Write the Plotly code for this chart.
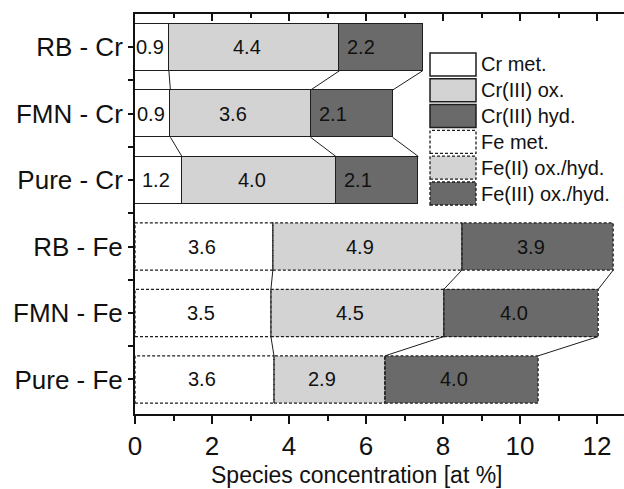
import plotly.graph_objects as go

# ---- data ----
cr_samples = ["RB - Cr", "FMN - Cr", "Pure - Cr"]
cr_met = [0.88, 0.92, 1.22]
cr_ox = [4.43, 3.64, 4.00]
cr_hyd = [2.16, 2.13, 2.14]

fe_samples = ["RB - Fe", "FMN - Fe", "Pure - Fe"]
fe_met = [3.58, 3.53, 3.61]
fe_ox = [4.91, 4.49, 2.88]
fe_hyd = [3.93, 4.01, 3.98]

legend_names = ["Cr met.", "Cr(III) ox.", "Cr(III) hyd.",
                "Fe met.", "Fe(II) ox./hyd.", "Fe(III) ox./hyd."]
x_ticks = [0, 2, 4, 6, 8, 10, 12]
x_title = "Species concentration [at %]"

# ---- style ----
FONT = "Liberation Sans, Arial, sans-serif"
WHITE, LIGHT, DARK = "#ffffff", "#d3d3d3", "#6a6a6a"
EDGE = "#1e1e1e"
BW = 0.71          # bar thickness in y units
H = BW / 2
DASH = "3px,2px"

cr_y = [5, 4, 3]
fe_y = [2, 1, 0]

fig = go.Figure()

def add_group(ys, series, colors, line_w):
    for vals, col in zip(series, colors):
        fig.add_trace(go.Bar(
            y=ys, x=vals, orientation="h", width=BW,
            marker=dict(color=col, line=dict(color=EDGE, width=line_w)),
            showlegend=False, hoverinfo="skip"))

add_group(cr_y, [cr_met, cr_ox, cr_hyd], [WHITE, LIGHT, DARK], 1.5)
add_group(fe_y, [fe_met, fe_ox, fe_hyd], [WHITE, LIGHT, DARK], 0)

def cum(series):
    out = []
    for i in range(len(series[0])):
        a = series[0][i]
        b = a + series[1][i]
        c = b + series[2][i]
        out.append([0, a, b, c])
    return out

cr_cum = cum([cr_met, cr_ox, cr_hyd])
fe_cum = cum([fe_met, fe_ox, fe_hyd])

# dashed outlines for Fe bars
ox, oy = [], []
for y, c in zip(fe_y, fe_cum):
    for k in range(3):
        x0, x1 = c[k], c[k + 1]
        ox += [x0, x1, x1, x0, x0, None]
        oy += [y - H, y - H, y + H, y + H, y - H, None]
fig.add_trace(go.Scatter(x=ox, y=oy, mode="lines",
                         line=dict(color=EDGE, width=1.3, dash=DASH),
                         showlegend=False, hoverinfo="skip"))

# connectors between adjacent bars
cx, cy = [], []
for ys, cs in ((cr_y, cr_cum), (fe_y, fe_cum)):
    for i in range(len(ys) - 1):
        for k in (1, 2, 3):
            cx += [cs[i][k], cs[i + 1][k], None]
            cy += [ys[i] - H, ys[i + 1] + H, None]
fig.add_trace(go.Scatter(x=cx, y=cy, mode="lines",
                         line=dict(color=EDGE, width=1),
                         showlegend=False, hoverinfo="skip"))

# value labels
ann = []
for ys, series, cs in ((cr_y, [cr_met, cr_ox, cr_hyd], cr_cum),
                       (fe_y, [fe_met, fe_ox, fe_hyd], fe_cum)):
    for i, y in enumerate(ys):
        for k in range(3):
            v = series[k][i]
            is_cr_hyd = (ys is cr_y and k == 2)
            if is_cr_hyd:
                ann.append(dict(x=cs[i][k], y=y, text=f"{v:.1f}", xref="x", yref="y",
                                xanchor="left", xshift=6, showarrow=False,
                                font=dict(family=FONT, size=20, color="#111")))
            else:
                shift = -2 if k == 0 else -7
                ann.append(dict(x=(cs[i][k] + cs[i][k + 1]) / 2, y=y, text=f"{v:.1f}",
                                xref="x", yref="y", xanchor="center", xshift=shift,
                                showarrow=False,
                                font=dict(family=FONT, size=20, color="#111")))

# manual legend (pixel layout -> paper coords)
L, T, PW, PH = 135, 14, 489, 400
def px(xp):
    return (xp - L) / PW
def py(yp):
    return (T + PH - yp) / PH

shapes = []
leg_fill = [WHITE, LIGHT, DARK, WHITE, LIGHT, DARK]
for j, name in enumerate(legend_names):
    top = 53 + j * 25.8
    dashed = j >= 3
    shapes.append(dict(type="rect", xref="paper", yref="paper",
                       x0=px(430), x1=px(476), y0=py(top + 23), y1=py(top),
                       fillcolor=leg_fill[j],
                       line=dict(color=EDGE, width=1.3 if dashed else 1.5,
                                 dash=DASH if dashed else "solid")))
    ann.append(dict(x=px(479), y=py(top + 11.5), xref="paper", yref="paper",
                    text=name, xanchor="left", yanchor="middle", showarrow=False,
                    font=dict(family=FONT, size=20, color="#111")))

# x-axis title (placed as in the reference, left of plot centre)
ann.append(dict(x=px(357), y=py(475), xref="paper", yref="paper", text=x_title,
                xanchor="center", yanchor="middle", showarrow=False,
                font=dict(family=FONT, size=23, color="#111")))

xmax = PW / ((597 - 135) / 12)

axis_common = dict(showline=True, linecolor="#111", linewidth=2,
                   showgrid=False, zeroline=False, tickcolor="#111", tickwidth=1.8)

fig.update_layout(
    width=624, height=489,
    margin=dict(l=L, r=0, t=T, b=489 - T - PH),
    paper_bgcolor="white", plot_bgcolor="white",
    barmode="stack", bargap=0,
    showlegend=False,
    shapes=shapes, annotations=ann,
    xaxis=dict(range=[0, xmax], tickvals=x_ticks, ticks="outside", ticklen=8,
               minor=dict(tickvals=[1, 3, 5, 7, 9, 11], ticks="outside", ticklen=5,
                          tickcolor="#111", tickwidth=1.8),
               tickfont=dict(family=FONT, size=26, color="#111"),
               **axis_common),
    xaxis2=dict(range=[0, xmax], overlaying="x", side="top", tickvals=x_ticks,
                ticks="inside", ticklen=7, showticklabels=False,
                minor=dict(tickvals=[1, 3, 5, 7, 9, 11], ticks="inside", ticklen=4,
                           tickcolor="#111", tickwidth=1.8),
                **axis_common),
    yaxis=dict(range=[-0.52, 5.5], tickvals=cr_y + fe_y, ticktext=cr_samples + fe_samples,
               ticks="outside", ticklen=5,
               minor=dict(tickvals=[0.5, 1.5, 2.5, 3.5, 4.5], ticks="outside", ticklen=5,
                          tickcolor="#111", tickwidth=1.8),
               tickfont=dict(family=FONT, size=26, color="#111"),
               **axis_common),
)

fig.add_trace(go.Scatter(x=[0], y=[0], xaxis="x2", mode="markers",
                         marker=dict(opacity=0), showlegend=False, hoverinfo="skip"))

fig.write_html("out.html")
